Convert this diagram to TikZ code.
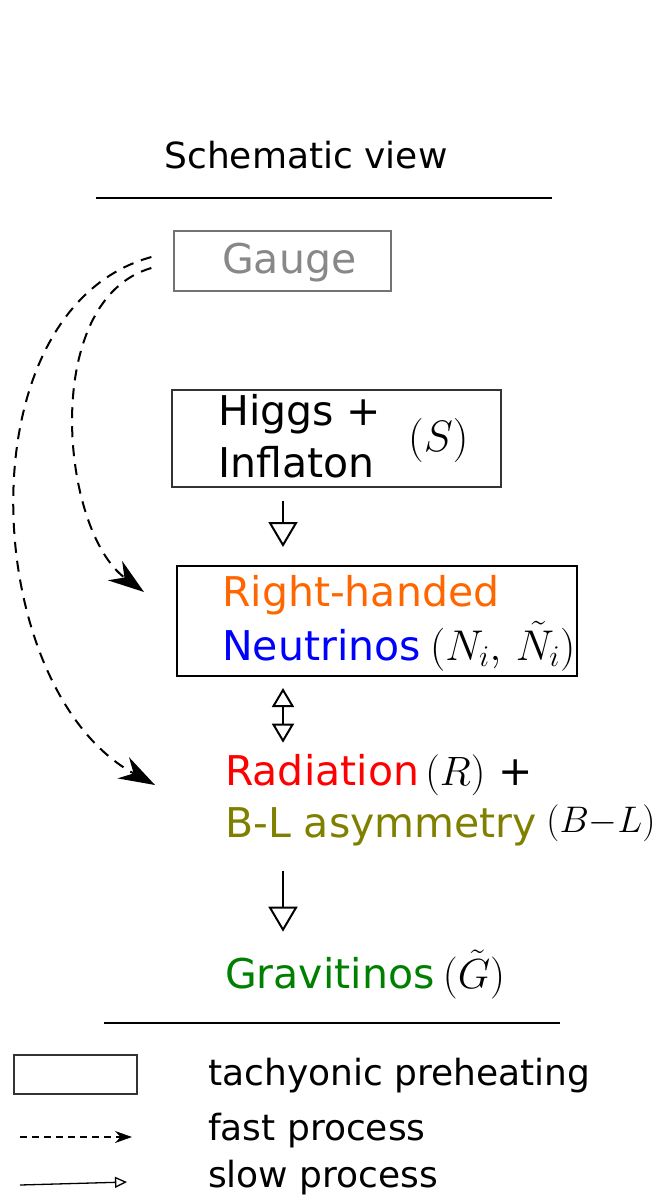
\RequirePackage{fix-cm}
\documentclass[tikz,border=0pt]{standalone}
\usepackage{fontspec}
\setmainfont{DejaVu Sans}
\usetikzlibrary{arrows.meta}
\definecolor{RHorange}{HTML}{FF6600}
\definecolor{RHblue}{HTML}{0000FF}
\definecolor{Radred}{HTML}{FF0000}
\definecolor{BLolive}{HTML}{808000}
\definecolor{Gravgreen}{HTML}{008000}
\definecolor{Gaugegray}{HTML}{888888}

\begin{document}
\begin{tikzpicture}[x=1pt,y=-1pt,
  procbox/.style={rectangle,draw=black!80,line width=1.2pt,inner sep=0pt},
  lbl/.style={inner sep=0pt,anchor=base west,font=\fontsize{41}{53}\selectfont},
  legendtxt/.style={inner sep=0pt,anchor=base west,font=\fontsize{36}{44}\selectfont},
  slow/.style={-{Triangle[open,length=25pt,width=29pt]},line width=2pt},
  fast/.style={-{Stealth[length=36pt,width=24pt]},dash pattern=on 11pt off 8pt,line width=2pt}]
  \useasboundingbox (0,0) rectangle (662,1195);
  \node[inner sep=0pt,anchor=base,font=\fontsize{36}{44}\selectfont] (title) at (306,168) {Schematic view};
  \draw[line width=1.2pt] (96,198) -- (552,198);

  \node[procbox,draw=black!55,minimum width=217pt,minimum height=60pt] (gauge) at (282.5,261) {};
  \node[lbl,text=Gaugegray] (gaugetxt) at (222,273) {Gauge};

  \node[procbox,minimum width=329pt,minimum height=97pt] (higgs) at (336.5,438.5) {};
  \node[lbl] (higgs1) at (218,425) {Higgs +};
  \node[lbl] (higgs2) at (218,477) {Inflaton};
  \node[lbl,font=\fontsize{44}{53}\selectfont] (higgsS) at (408,451) {$(S)$};

  \node[procbox,draw=black,line width=2pt,minimum width=400pt,minimum height=110pt] (rhn) at (377,621) {};
  \node[lbl,text=RHorange] (rhn1) at (222,606) {Right-handed};
  \node[lbl,text=RHblue] (rhn2) at (222,660) {Neutrinos};
  \node[lbl,font=\fontsize{43}{53}\selectfont] (rhnN) at ([xshift=9pt]rhn2.base east) {$(N_i,\,\tilde N_i)$};

  \node[lbl,text=Radred] (rad) at (225,785) {Radiation};
  \node[lbl] (radR) at ([xshift=6pt]rad.base east) {$(R)$ +};
  \node[lbl,text=BLolive] (bl) at (225,837) {B-L asymmetry};
  \node[lbl,font=\fontsize{37}{44}\selectfont] (blB) at ([xshift=9pt,yshift=5pt]bl.base east) {$(B{-}L)$};

  \node[lbl,text=Gravgreen] (grav) at (225,988) {Gravitinos};
  \node[lbl,font=\fontsize{42}{53}\selectfont] (gravG) at ([xshift=8pt]grav.base east) {$(\tilde G)$};

  \coordinate (axis) at (283,0);
  \draw[slow,shorten <=13pt,shorten >=18pt] (higgs.south -| axis) -- (rhn.north -| axis);
  \draw[{Triangle[open,length=19pt,width=22pt]}-{Triangle[open,length=19pt,width=22pt]},line width=2pt,shorten <=11pt,shorten >=11pt] (rhn.south -| axis) -- (rad.north -| axis);
  \draw[slow,shorten <=25pt,shorten >=25pt] (bl.south -| axis) -- (grav.north -| axis);

  \draw[fast] ([xshift=-22pt,yshift=4pt]gauge.west) .. controls (-40,310) and (-20,690) .. ([xshift=-70pt]rad.base west);
  \draw[fast] ([xshift=-22pt,yshift=-7pt]gauge.west) .. controls (40,300) and (60,530) .. ([xshift=-32pt,yshift=-27pt]rhn.north west);

  \draw[line width=1.2pt] (104,1023) -- (560,1023);

  % legend
  \node[procbox,line width=1.5pt,minimum width=123pt,minimum height=39pt] (legbox) at (75.5,1074.5) {};
  \node[legendtxt] (legtach) at (208,1085) {tachyonic preheating};
  \node[legendtxt] (legfast) at (208,1140) {fast process};
  \node[legendtxt] (legslow) at (208,1187) {slow process};
  \coordinate (fastA) at (20,1137);
  \coordinate (fastB) at (132,1137);
  \coordinate (slowA) at (20,1185);
  \coordinate (slowB) at (127,1182);
  \draw[-{Stealth[length=17pt,width=12pt]},dash pattern=on 7pt off 5pt,line width=1.3pt] (fastA) -- (fastB);
  \draw[-{Triangle[open,length=12pt,width=11pt]},line width=1.3pt] (slowA) -- (slowB);
\end{tikzpicture}
\end{document}
